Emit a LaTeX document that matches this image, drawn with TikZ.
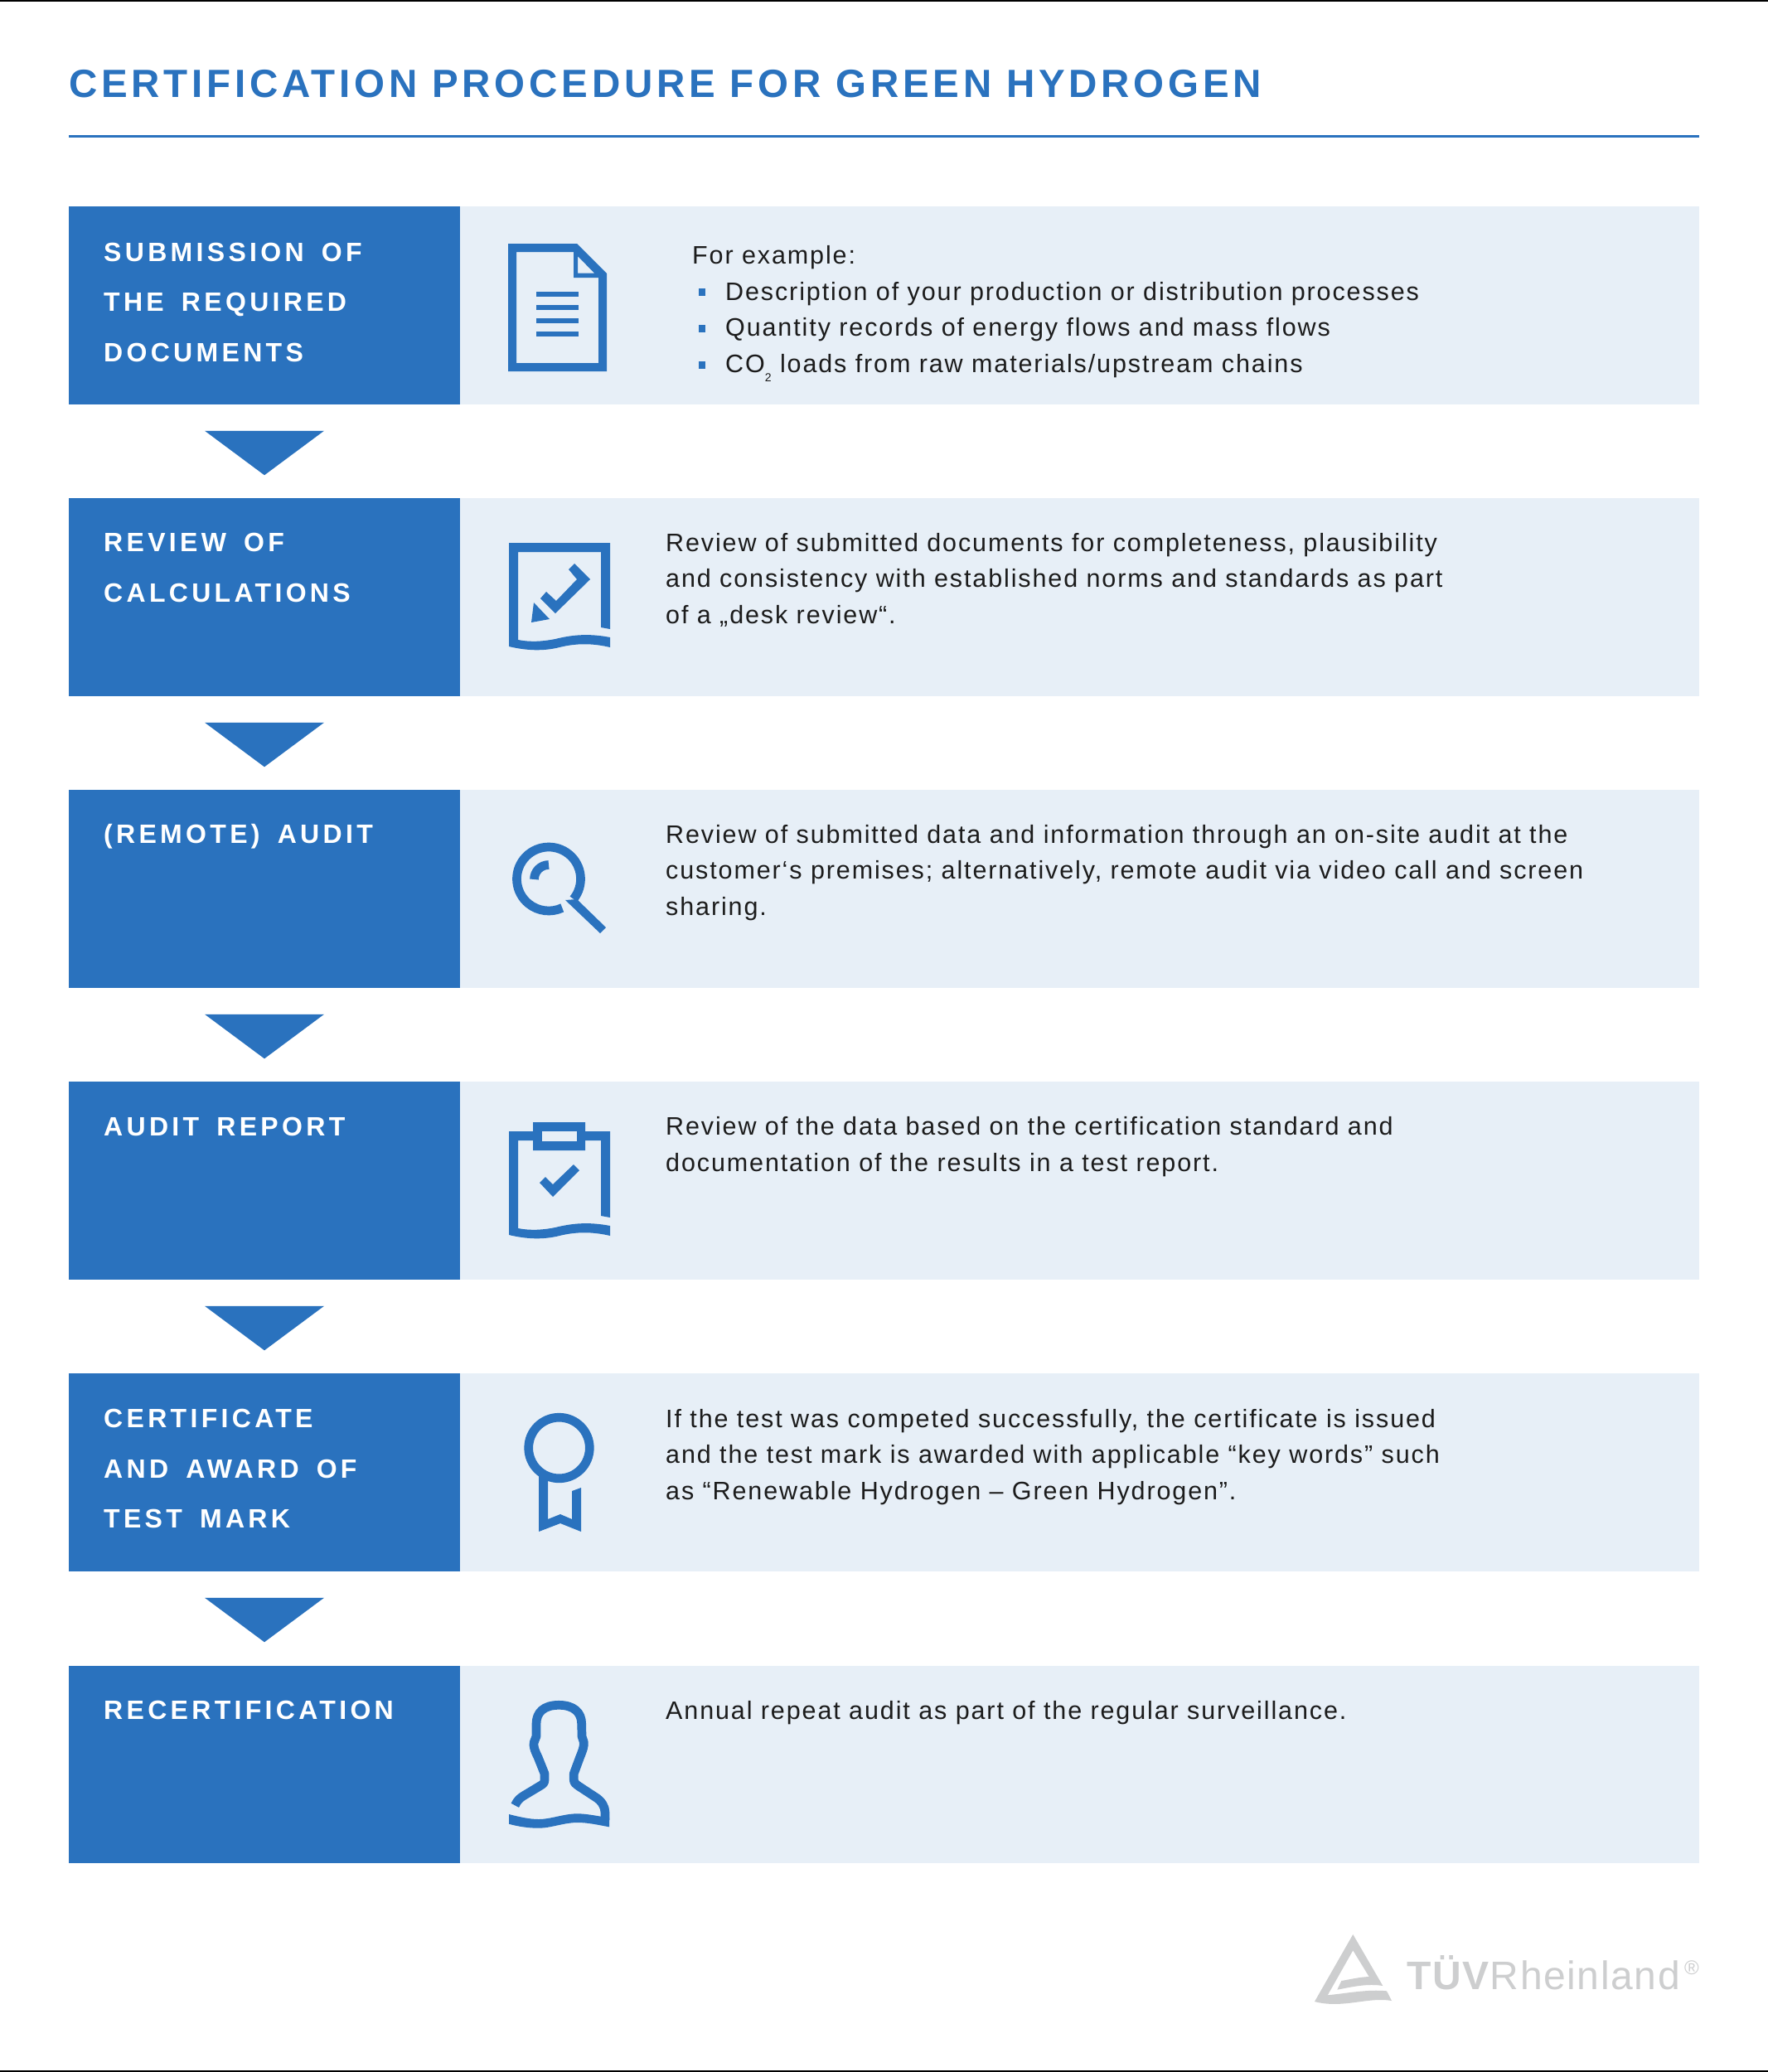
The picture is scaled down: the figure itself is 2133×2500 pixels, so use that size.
\documentclass[tikz,border=0pt]{standalone}
\usepackage{fontspec}
\usetikzlibrary{calc}
\setmainfont{Liberation Sans}
\newfontfamily\titlefont[LetterSpace=10]{Liberation Sans Bold}
\newfontfamily\labelfont[LetterSpace=13.5,WordSpace=1.6]{Liberation Sans Bold}
\newfontfamily\bodyfont[LetterSpace=6.2]{Liberation Sans}
\newfontfamily\logofont[LetterSpace=3.3]{Liberation Sans}
\definecolor{tblue}{HTML}{2A72BE}
\definecolor{tpanel}{HTML}{E7EFF7}
\definecolor{tink}{HTML}{1C1C1C}
\definecolor{tgray}{HTML}{CDCECF}
\newcommand{\flb}{\rule{0pt}{25pt}}
\newcommand{\fll}{\rule{0pt}{25pt}}
\begin{document}
\begin{tikzpicture}[x=1pt,y=-1pt,
  labelbox/.style={fill=tblue,inner sep=0pt,outer sep=0pt,anchor=north west,minimum width=472pt,minimum height=238.8pt},
  panelbox/.style={fill=tpanel,inner sep=0pt,outer sep=0pt,anchor=north west,minimum width=1495pt,minimum height=238.8pt},
  labeltext/.style={anchor=north west,inner sep=0pt,align=left,text=white,font=\labelfont\fontsize{32}{60.5}\selectfont},
  bodytext/.style={anchor=north west,inner sep=0pt,align=left,text=tink,font=\bodyfont\fontsize{30.5}{43.6}\selectfont},
  downtri/.style={fill=tblue},
  iconfill/.style={fill=tblue,even odd rule},
  iconline/.style={draw=tblue,line width=10.7pt,miter limit=10},
  ]
\useasboundingbox (0,0) rectangle (2133,2500);
\fill[white] (0,0) rectangle (2133,2500);
\fill[black] (0,0) rectangle (2133,2);
\fill[black] (0,2498) rectangle (2133,2500);
% title
\node[anchor=base west,inner sep=0pt,text=tblue,font=\titlefont\fontsize{47.5}{50}\selectfont] (title) at (83,117) {CERTIFICATION PROCEDURE FOR GREEN HYDROGEN};
\fill[tblue] (83,162.5) rectangle (2050,165.5);
% rows
\node[panelbox] (p1) at (555,249) {};
\node[panelbox] (p2) at (555,601) {};
\node[panelbox] (p3) at (555,953) {};
\node[panelbox] (p4) at (555,1305) {};
\node[panelbox] (p5) at (555,1657) {};
\node[panelbox] (p6) at (555,2009.5) {};
\node[labelbox] (l1) at (83,249) {};
\node[labelbox] (l2) at (83,601) {};
\node[labelbox] (l3) at (83,953) {};
\node[labelbox] (l4) at (83,1305) {};
\node[labelbox] (l5) at (83,1657) {};
\node[labelbox] (l6) at (83,2009.5) {};
% arrows
\foreach \a in {1,2,3,4,5}{
  \fill[downtri] ($(l\a.south)+(-72,32)$) -- ($(l\a.south)+(72,32)$) -- ($(l\a.south)+(0,85.5)$) -- cycle;
}
% labels
\node[labeltext] (t1) at (125,290) {\fll SUBMISSION OF\\THE REQUIRED\\DOCUMENTS};
\node[labeltext] (t2) at (125,640.5) {\fll REVIEW OF\\CALCULATIONS};
\node[labeltext] (t3) at (125,992.5) {\fll (REMOTE) AUDIT};
\node[labeltext] (t4) at (125,1345) {\fll AUDIT REPORT};
\node[labeltext] (t5) at (125,1697.5) {\fll CERTIFICATE\\AND AWARD OF\\TEST MARK};
\node[labeltext] (t6) at (125,2049.5) {\fll RECERTIFICATION};
% body
\node[bodytext] (b1a) at (835,293.5) {\flb For example:};
\node[bodytext] (b1b) at (875,337) {\flb Description of your production or distribution processes\\Quantity records of energy flows and mass flows\\CO\raisebox{-11pt}{\fontsize{14}{14}\selectfont 2} loads from raw materials/upstream chains};
\fill[tblue] (843,348) rectangle (851,357);
\fill[tblue] (843,392) rectangle (851,401);
\fill[tblue] (843,436) rectangle (851,445);
\node[bodytext] (b2) at (803,640) {\flb Review of submitted documents for completeness, plausibility\\and consistency with established norms and standards as part\\of a „desk review“.};
\node[bodytext] (b3) at (803,992) {\flb Review of submitted data and information through an on-site audit at the\\customer‘s premises; alternatively, remote audit via video call and screen\\sharing.};
\node[bodytext] (b4) at (803,1344.5) {\flb Review of the data based on the certification standard and\\documentation of the results in a test report.};
\node[bodytext] (b5) at (803,1697) {\flb If the test was competed successfully, the certificate is issued\\and the test mark is awarded with applicable “key words” such\\as “Renewable Hydrogen – Green Hydrogen”.};
\node[bodytext] (b6) at (803,2049.5) {\flb Annual repeat audit as part of the regular surveillance.};
% icon 1: document
\fill[iconfill] (613,294) -- (696,294) -- (732,330) -- (732,448) -- (613,448) -- cycle
  (623,304) -- (692,304) -- (692,335) -- (722,335) -- (722,438) -- (623,438) -- cycle
  (697,309) -- (717,329.5) -- (697,329.5) -- cycle;
\foreach \yy in {352,368,384,400}{ \fill[tblue] (647,\yy) rectangle (698,\yy+6); }
% icon 2: frame with wave and pencil check
\def\waveframe{(614,780) -- (614,655) -- (736,655) -- (736,759) -- (725,757) -- (725,666) -- (625,666) -- (625,772)
  .. controls (640,775) and (655,774) .. (670,771) .. controls (690,766) and (710,764) .. (736,769)
  -- (736,781) .. controls (715,776) and (695,776) .. (675,781) .. controls (655,786) and (635,785) .. (614,780) -- cycle}
\fill[tblue] \waveframe;
\fill[tblue] (693,680) -- (712,699) -- (670,740) -- (652,722) -- (659,714) -- (671,725) -- (696,699) -- (686,687) -- cycle;
\fill[tblue] (644,727) -- (663,747) -- (641,751) -- cycle;
% icon 3: magnifier
\draw[iconline] (662,1060.5) ++(-39:38.5pt) arc[start angle=-39,end angle=295,radius=38.5pt];
\fill[tblue] (682,1086) -- (696,1085) -- (731,1119) -- (724,1126) -- cycle;
\draw[iconline] (662,1061) ++(90:17.5pt) arc[start angle=90,end angle=180,radius=17.5pt];
% icon 4: clipboard
\begin{scope}[yshift=-710pt]
\fill[tblue] \waveframe;
\end{scope}
\fill[tblue,even odd rule] (643,1354) rectangle (706,1388) (654,1365) rectangle (696,1377);
\fill[tpanel] (654,1365) rectangle (696,1377);
\fill[tblue] (692,1405) -- (699,1412) -- (667,1444) -- (651,1427) -- (658,1420) -- (667,1429) -- cycle;
% icon 5: rosette
\fill[tblue] (650,1780) -- (650,1848) -- (676,1838) -- (701,1848) -- (701,1795) -- (690,1799) -- (690,1833) -- (676,1827) -- (661,1833) -- (661,1785) -- cycle;
\draw[iconline] (674.5,1747) circle[radius=36.8pt];
% icon 6: person
\draw[iconline,line join=round] (621.3,2178.3) .. controls (624,2172) and (628,2169) .. (631.7,2166.7)
  -- (652,2154.5) .. controls (656,2152) and (657,2151) .. (657,2147)
  -- (657,2140) -- (649,2120) .. controls (645,2112) and (643,2106) .. (644.3,2102) -- (647,2095) -- (647,2080)
  .. controls (647,2066) and (656,2057.3) .. (674.3,2057.3)
  .. controls (692,2057.3) and (701.7,2066) .. (701.7,2080)
  -- (702,2095) -- (704.3,2102) .. controls (705,2106) and (703,2112) .. (699.7,2120)
  -- (692.3,2140) -- (692.3,2147) .. controls (692.3,2151) and (694,2152) .. (698,2155)
  -- (718.3,2168.3) .. controls (726,2173) and (730,2180) .. (730,2187) -- (730,2196);
\fill[tblue] (614,2189) .. controls (626,2192) and (638,2195) .. (650,2195)
  .. controls (665,2195) and (680,2188.3) .. (696.7,2188.3)
  .. controls (705,2188.3) and (715,2190) .. (725,2191.7) -- (735,2193) -- (735,2204.3)
  .. controls (722,2202) and (710,2199) .. (696.7,2199)
  .. controls (680,2199) and (665,2205.7) .. (650,2205.7)
  .. controls (638,2205.7) and (626,2204) .. (614,2200.7) -- cycle;
% logo
\fill[tgray] (1632.3,2334) -- (1668.3,2396) .. controls (1650,2393) and (1632,2397) .. (1613.3,2400.7) -- (1618.3,2390)
  .. controls (1630,2388) and (1640,2385.5) .. (1651.7,2385) -- (1632.3,2353.3) -- (1601.7,2407.3)
  .. controls (1625,2405) and (1650,2400) .. (1673,2402.3) -- (1679,2414)
  .. controls (1650,2409) and (1620,2424) .. (1586,2415) -- cycle;
\node[anchor=base west,inner sep=0pt,text=tgray,font=\logofont\fontsize{48}{50}\selectfont] (logo) at (1697,2400) {\textbf{TÜV}Rheinland};
\node[anchor=base west,inner sep=0pt,text=tgray,font=\logofont\fontsize{24}{26}\selectfont] (reg) at (2032,2382) {®};
\end{tikzpicture}
\end{document}
